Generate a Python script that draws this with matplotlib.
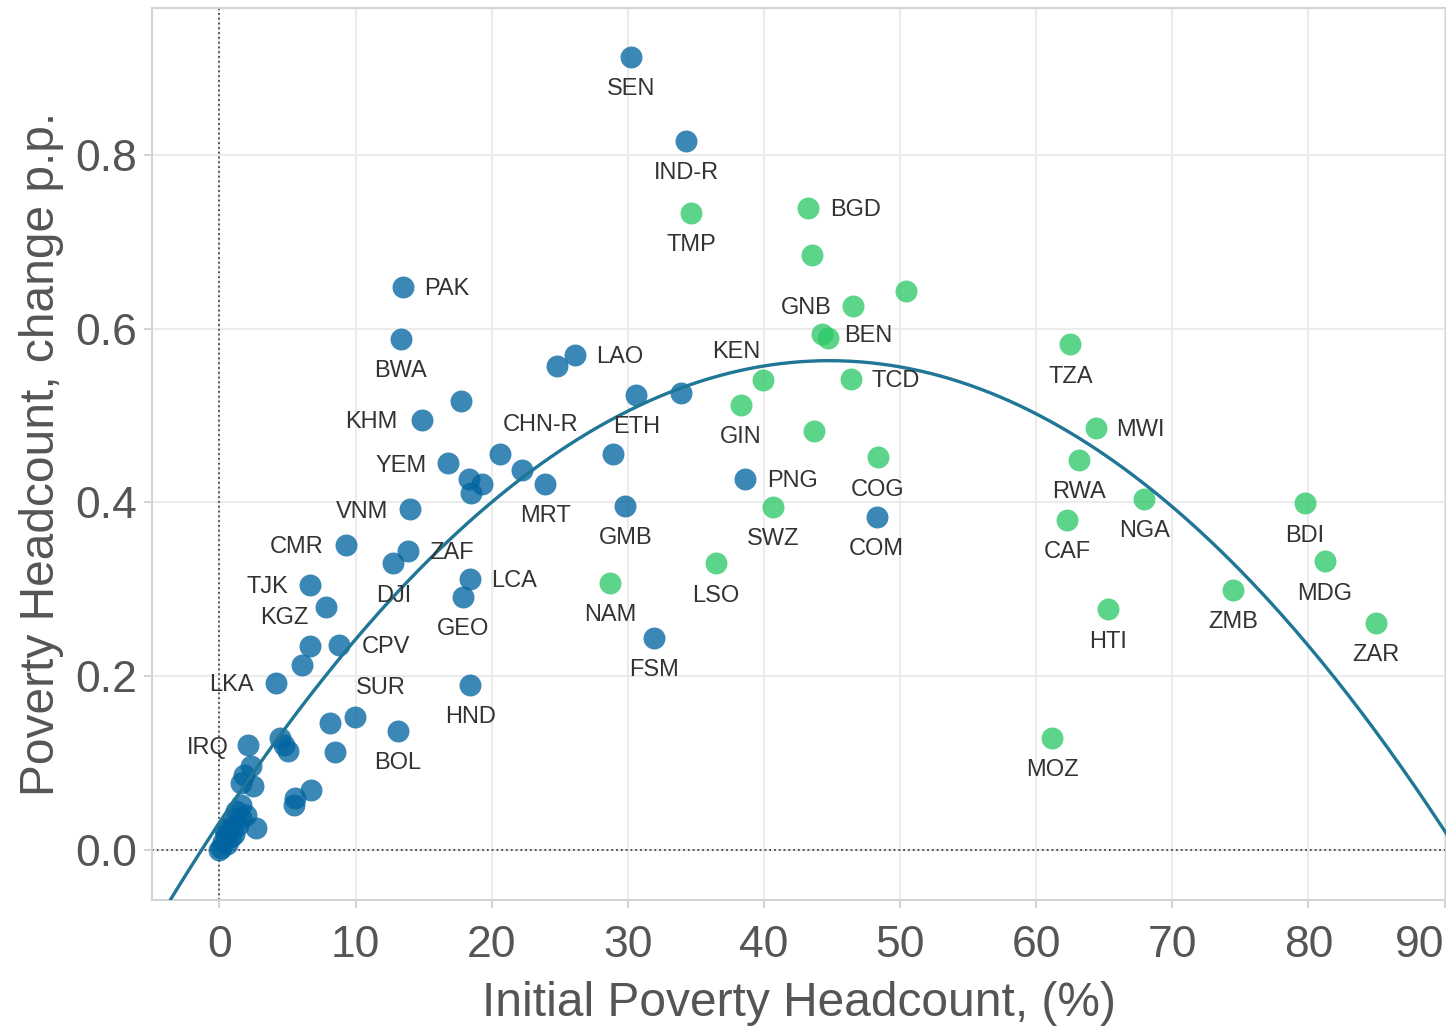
import numpy as np
import matplotlib
matplotlib.use("Agg")
import matplotlib.pyplot as plt

plt.rcParams['font.family'] = ['Liberation Sans', 'DejaVu Sans']

# low / middle income group (blue)
blue_x = [30.25, 34.28, 13.46, 13.32, 26.14, 24.82, 17.78, 14.85, 30.63, 33.91,
          20.65, 28.93, 22.26, 23.94, 16.83, 18.30, 19.32, 18.45, 13.97, 29.81,
          9.28, 13.82, 12.79, 6.64, 7.81, 18.44, 17.93, 6.64, 6.06, 8.76,
          31.94, 38.60, 48.28, 4.15, 18.44, 9.94, 8.10, 13.09, 8.47, 6.71,
          5.54, 5.47, 2.10, 4.46, 4.74, 5.03, 2.30, 1.80, 1.58, 2.47,
          2.69, 1.20, 0.98, 0.70, 0.48, 0.26, 0.12, 1.58, 1.36, 0.85,
          0.55, 0.0, 0.41, 1.07, 1.58, 1.95]
blue_y = [0.913, 0.816, 0.648, 0.588, 0.570, 0.557, 0.516, 0.495, 0.524, 0.526,
          0.456, 0.456, 0.437, 0.421, 0.445, 0.427, 0.421, 0.411, 0.392, 0.396,
          0.351, 0.344, 0.330, 0.305, 0.279, 0.312, 0.291, 0.234, 0.213, 0.236,
          0.244, 0.427, 0.383, 0.192, 0.190, 0.153, 0.146, 0.137, 0.112, 0.069,
          0.060, 0.051, 0.120, 0.128, 0.120, 0.113, 0.096, 0.086, 0.077, 0.073,
          0.025, 0.044, 0.035, 0.025, 0.017, 0.009, 0.002, 0.037, 0.028, 0.014,
          0.006, 0.0, 0.023, 0.018, 0.051, 0.040]
blue_lab = ['SEN', 'IND-R', 'PAK', 'BWA', 'LAO', '', '', 'KHM', 'ETH', '',
            'CHN-R', '', '', 'MRT', 'YEM', '', '', '', 'VNM', 'GMB',
            'CMR', 'ZAF', 'DJI', 'TJK', 'KGZ', 'LCA', 'GEO', '', '', 'CPV',
            'FSM', 'PNG', 'COM', 'LKA', 'HND', 'SUR', '', 'BOL', '', '',
            '', '', 'IRQ', '', '', '', '', '', '', '',
            '', '', '', '', '', '', '', '', '', '',
            '', '', '', '', '', '']

# high poverty group (green)
green_x = [34.65, 43.23, 43.52, 50.43, 46.53, 44.25, 44.69, 39.92, 46.37, 38.31,
           43.67, 48.35, 40.65, 36.47, 28.71, 62.51, 64.41, 63.17, 67.93, 62.29,
           65.30, 74.46, 79.74, 81.20, 84.96, 61.19]
green_y = [0.733, 0.739, 0.685, 0.643, 0.626, 0.594, 0.589, 0.541, 0.542, 0.512,
           0.482, 0.452, 0.395, 0.330, 0.307, 0.582, 0.486, 0.449, 0.404, 0.380,
           0.277, 0.299, 0.399, 0.332, 0.261, 0.129]
green_lab = ['TMP', 'BGD', '', '', 'GNB', 'BEN', '', 'KEN', 'TCD', 'GIN',
             '', 'COG', 'SWZ', 'LSO', 'NAM', 'TZA', 'MWI', 'RWA', 'NGA', 'CAF',
             'HTI', 'ZMB', 'BDI', 'MDG', 'ZAR', 'MOZ']

# quadratic fit (c2, c1, c0)
fit_coef = [-0.000265, 0.023744, 0.0311]

x_ticks = [0, 10, 20, 30, 40, 50, 60, 70, 80, 90]
y_ticks = [0.0, 0.2, 0.4, 0.6, 0.8]

# label placement: default is below the point; exceptions in pixels
right_labels = {'PAK': 22, 'LAO': 21, 'BGD': 22, 'TCD': 21, 'PNG': 22, 'MWI': 20,
                'ZAF': 22, 'LCA': 21, 'CPV': 23, 'BEN': 22}
left_labels = {'KHM': -24, 'YEM': -22, 'VNM': -21, 'CMR': -22, 'TJK': -22,
               'LKA': -22, 'IRQ': -19, 'GNB': -21}
special = {'KEN': (-27, 30), 'CHN-R': (40, 31), 'SUR': (26, 31), 'KGZ': (-17, -8)}

blue_c = '#0064a0'
green_c = '#2bc967'

fig = plt.figure(figsize=(14.46, 10.28), dpi=100)
ax = fig.add_axes([0.1051, 0.1245, 0.8949, 0.8677])

ax.scatter(blue_x, blue_y, s=250, color=blue_c, alpha=0.77, linewidths=0, zorder=3)
ax.scatter(green_x, green_y, s=250, color=green_c, alpha=0.77, linewidths=0, zorder=3)

xs = np.linspace(-6, 92, 400)
ax.plot(xs, np.polyval(fit_coef, xs), color='#1f7696', lw=2.4, zorder=4)

ax.axvline(0, color='#444444', ls=':', lw=1.3, zorder=2)
ax.axhline(0, color='#444444', ls=':', lw=1.3, zorder=2)

cap_half = 8.5
for xx, yy, lab in list(zip(blue_x, blue_y, blue_lab)) + list(zip(green_x, green_y, green_lab)):
    if not lab:
        continue
    if lab in right_labels:
        dx, dy, ha = right_labels[lab], 0, 'left'
    elif lab in left_labels:
        dx, dy, ha = left_labels[lab], 0, 'right'
    elif lab in special:
        dx, dy = special[lab]
        ha = 'center' if lab != 'KGZ' else 'right'
    else:
        dx, dy, ha = 0, -30, 'center'
    ax.annotate(lab, (xx, yy), xytext=(dx, dy - cap_half), textcoords='offset pixels',
                ha=ha, va='baseline', fontsize=17, color='#333333', zorder=5)

ax.set_xlim(-4.95, 90.1)
ax.set_ylim(-0.058, 0.969)
ax.set_xticks(x_ticks)
ax.set_yticks(y_ticks)
ax.set_yticklabels([f'{v:.1f}' for v in y_ticks])
ax.grid(True, color='#ebebeb', lw=1.5, zorder=0)
ax.set_axisbelow(True)
for sp in ax.spines.values():
    sp.set_color('#d4d4d4')
    sp.set_linewidth(1.5)
ax.tick_params(axis='both', colors='#cccccc', length=6, width=1.2,
               labelcolor='#555555', labelsize=32, pad=5)
ax.tick_params(axis='x', pad=12)
ax.get_xticklabels()[-1].set_ha('right')
ax.set_xlabel('Initial Poverty Headcount, (%)', fontsize=34.5, color='#555555', labelpad=11)
ax.set_ylabel('Poverty Headcount, change p.p.', fontsize=34.5, color='#555555', labelpad=8)

fig.savefig('out.png', dpi=100)
